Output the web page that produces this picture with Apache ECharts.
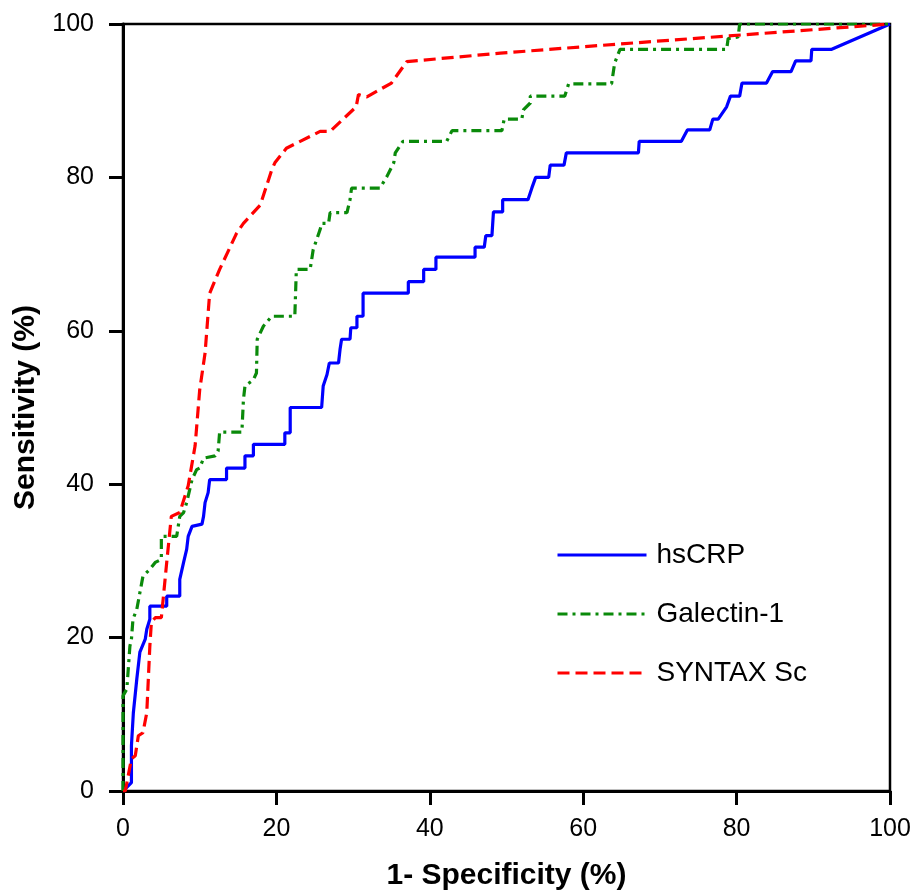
<!DOCTYPE html>
<html><head><meta charset="utf-8">
<script src="https://cdn.jsdelivr.net/npm/echarts@6/dist/echarts.min.js"></script>
<style>html,body{margin:0;padding:0;background:#fff}#c{width:918px;height:896px}</style>
</head><body><div id="c"></div>
<script>
const seriesNames = ['hsCRP', 'Galectin-1', 'SYNTAX Sc'];
const xTicks = [0, 20, 40, 60, 80, 100];

const hsCrpX = [0,1.1,1.1,1.35,1.8,2.2,2.9,3.1,3.5,3.5,5.7,5.7,7.4,7.4,7.9,8.3,8.5,9.0,10.3,10.5,10.7,11.1,11.3,13.5,13.5,15.9,15.9,17.0,17.0,21.1,21.1,21.8,21.8,25.9,26.1,26.6,26.9,28.1,28.3,28.5,29.6,29.7,30.5,30.5,31.3,31.3,37.2,37.2,39.2,39.2,40.8,40.8,45.9,45.9,47.1,47.3,48.1,48.3,49.5,49.5,52.8,53.3,53.8,55.5,55.7,57.5,57.8,67.2,67.3,72.8,73.6,76.5,76.9,77.6,78.7,79.2,80.4,80.7,83.9,84.7,87.1,87.7,89.7,89.8,92.4,100];
const hsCrpY = [0,1.1,5.9,10.2,14.6,18.1,19.8,21.1,22.4,24.1,24.1,25.4,25.4,27.6,29.8,31.5,33.2,34.5,34.8,35.8,37.6,38.9,40.6,40.6,42.1,42.1,43.7,43.7,45.2,45.2,46.7,46.7,50.0,50.0,52.8,54.3,55.8,55.8,57.6,58.9,58.9,60.4,60.4,61.9,61.9,64.9,64.9,66.4,66.4,68.0,68.0,69.6,69.6,70.9,70.9,72.4,72.4,75.5,75.5,77.1,77.1,78.6,80.0,80.0,81.6,81.6,83.2,83.2,84.7,84.7,86.2,86.2,87.6,87.6,89.2,90.6,90.6,92.3,92.3,93.8,93.8,95.2,95.2,96.7,96.7,100];

const galectinX = [0,0,0.5,0.9,1.1,1.3,1.8,2.6,3.5,4.2,5.0,5.0,7.0,7.4,7.9,8.3,9.0,9.6,10.0,10.5,12.0,12.4,12.6,15.5,15.7,15.9,17.0,17.4,17.5,18.3,19.4,22.4,22.6,24.4,24.6,24.8,25.7,25.9,26.8,27.0,29.2,29.6,29.8,33.5,34.4,35.3,35.5,36.5,42.2,42.9,49.4,49.7,52.0,52.2,53.1,53.1,57.6,58.1,63.7,64.1,64.8,78.7,78.9,80.2,80.4,100];
const galectinY = [0,12.4,13.3,18.9,19.8,22.4,23.7,28.0,28.9,29.8,30.2,33.2,33.2,35.8,36.3,37.6,40.6,41.9,42.1,43.4,43.7,44.3,46.8,46.8,51.0,52.8,53.6,54.5,58.9,60.6,61.9,61.9,68.0,68.0,69.3,70.6,73.2,74.0,74.0,75.4,75.4,77.1,78.6,78.6,80.1,81.9,83.2,84.7,84.7,86.1,86.1,87.6,87.6,88.8,89.7,90.6,90.6,92.2,92.2,94.9,96.7,96.7,98.1,98.3,100,100];

const syntaxX = [0,0.3,1.1,1.6,2.0,2.6,3.1,3.5,3.7,4.2,5.0,5.7,6.3,7.4,8.5,9.4,10.0,10.7,11.3,12.6,14.8,15.7,17.9,19.4,19.8,21.3,23.1,25.7,27.0,30.4,30.7,31.8,35.0,37.0,49.2,64.8,100];
const syntaxY = [0,0,4.2,4.6,7.2,7.6,10.2,18.9,22.0,22.6,22.6,29.8,35.8,36.3,39.8,45.0,52.3,57.1,64.9,68.0,72.7,74.0,76.4,81.0,81.9,83.8,84.7,86.0,86.0,89.2,90.8,90.5,92.3,95.1,96.2,97.4,100];

function pairs(xs, ys){ return xs.map((x,i)=>[x, ys[i]]); }

const chart = echarts.init(document.getElementById('c'), null, {renderer:'canvas'});
const font = 'Liberation Sans, Arial, sans-serif';
const axisCommon = {
  min: 0, max: 100, interval: 20,
  axisLine: {show:true, onZero:false, lineStyle:{color:'#000', width:3}},
  axisTick: {show:true, inside:false, length:14, lineStyle:{color:'#000', width:3}},
  splitLine: {show:false},
  axisLabel: {color:'#000', fontSize:25, fontFamily:font, margin:26},
  nameLocation:'middle',
  nameTextStyle:{color:'#000', fontSize:30, fontWeight:'bold', fontFamily:font}
};
chart.setOption({
  animation:false,
  backgroundColor:'#fff',
  grid:{left:123, right:28, top:24, bottom:104, show:true, borderColor:'#000', borderWidth:2.5},
  xAxis:Object.assign({}, axisCommon, {type:'value', name:'1- Specificity (%)', nameGap:70}),
  yAxis:Object.assign({}, axisCommon, {type:'value', name:'Sensitivity (%)', nameGap:82,
     axisLabel:Object.assign({}, axisCommon.axisLabel, {margin:29})}),
  legend:{
    orient:'vertical', left:551, top:536, itemWidth:89, itemHeight:14, itemGap:31,
    itemStyle:{opacity:0},
    lineStyle:{width:3},
    textStyle:{fontSize:28, fontFamily:font, color:'#000', padding:[0,0,0,5]},
    data: seriesNames
  },
  series:[
    {name:seriesNames[0], type:'line', data:pairs(hsCrpX, hsCrpY), symbol:'none', z:3,
     lineStyle:{color:'#0000ff', width:3.2}, itemStyle:{color:'#0000ff'}},
    {name:seriesNames[1], type:'line', data:pairs(galectinX, galectinY), symbol:'none', z:4,
     lineStyle:{color:'#0a8a0a', width:3.2, type:[10,5,3,5]}, itemStyle:{color:'#0a8a0a'}},
    {name:seriesNames[2], type:'line', data:pairs(syntaxX, syntaxY), symbol:'none', z:5,
     lineStyle:{color:'#ff0000', width:3.2, type:[12,6]}, itemStyle:{color:'#ff0000'}}
  ]
});
</script></body></html>
